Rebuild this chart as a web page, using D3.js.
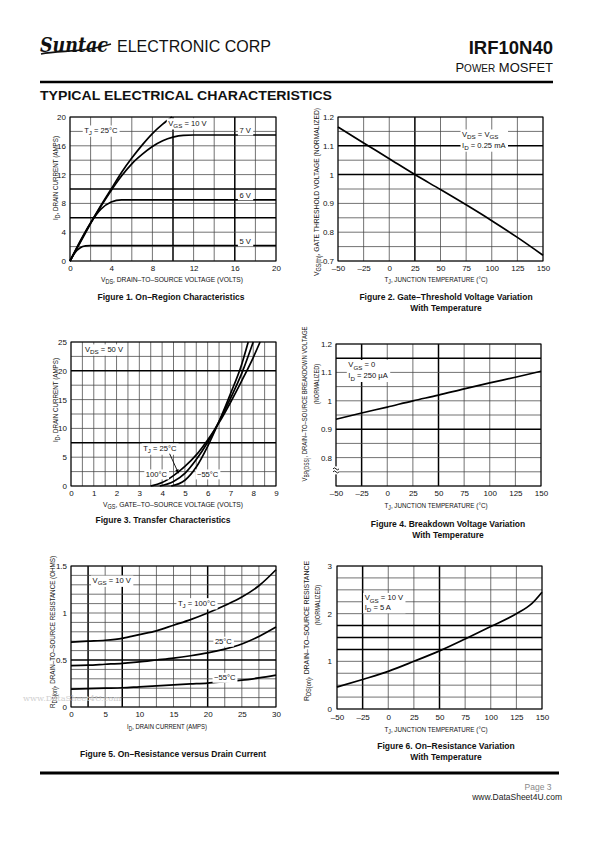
<!DOCTYPE html>
<html><head><meta charset="utf-8">
<script src="https://cdn.jsdelivr.net/npm/d3@7"></script>
<style>
body{margin:0;background:#fff;}
svg{display:block;}
</style></head><body>
<svg id="page" width="595" height="842"></svg>
<script>
// ---------------- DATA ----------------
// Figure 1: On-region characteristics (ID vs VDS)
const fig1_x10 = [0,1,2,3,4,5,6,7,8,9,9.9];
const fig1_y10 = [0,2.6,5.2,7.7,10,12.3,14.3,16.1,17.7,19.0,20];
const fig1_x7  = [0,1,2,3,4,5,6,7,8,9,10,11,12,20];
const fig1_y7  = [0,2.7,5.3,7.6,9.8,11.8,13.5,14.8,15.9,16.7,17.2,17.45,17.5,17.5];
const fig1_x6  = [0,1,2,3,4,5,6,20];
const fig1_y6  = [0,2.8,5.3,7.2,8.2,8.5,8.5,8.5];
const fig1_x5  = [0,0.5,1,1.5,2,20];
const fig1_y5  = [0,1.2,1.85,2.1,2.15,2.15];
const fig1_xticks = [0,4,8,12,16,20];
const fig1_yticks = [0,4,8,12,16,20];

// Figure 2: gate threshold vs temperature
const fig2_temp = [-50,-25,0,25,50,75,100,125,150];
const fig2_vth  = [1.165,1.11,1.055,1.0,0.948,0.895,0.84,0.782,0.72];
const tempTicks = [-50,-25,0,25,50,75,100,125,150];
const fig2_yticks = [0.7,0.8,0.9,1,1.1,1.2];

// Figure 3: transfer characteristics
const fig3_v100 = [3.5,4,4.5,5,5.5,6,6.5,7,7.5,8,8.3];
const fig3_i100 = [0,0.6,1.8,3.4,5.4,8,11,14.5,18.3,22.3,25];
const fig3_v25  = [3.9,4.5,5,5.5,6,6.5,7,7.5,8.0];
const fig3_i25  = [0,0.8,2.2,4.6,7.6,11.2,15.2,19.6,25];
const fig3_vm55 = [4.4,5,5.5,6,6.5,7,7.5,7.78];
const fig3_im55 = [0,1.0,3.3,6.9,11.2,16,21.2,25];
const fig3_xticks = [0,1,2,3,4,5,6,7,8,9];
const fig3_yticks = [0,5,10,15,20,25];

// Figure 4: breakdown voltage vs temperature
const fig4_temp = [-50,-25,0,25,50,75,100,125,150];
const fig4_vbr  = [0.935,0.957,0.978,1.0,1.02,1.042,1.063,1.083,1.104];
const fig4_yticks = [0.8,0.9,1,1.1,1.2];

// Figure 5: on-resistance vs drain current
const fig5_id   = [0,2.5,5,7.5,10,12.5,15,17.5,20,22.5,25,27.5,30];
const fig5_r100 = [0.69,0.70,0.71,0.73,0.77,0.81,0.87,0.93,1.0,1.08,1.17,1.29,1.46];
const fig5_r25  = [0.44,0.445,0.455,0.465,0.48,0.50,0.52,0.545,0.575,0.615,0.67,0.75,0.85];
const fig5_rm55 = [0.19,0.195,0.20,0.205,0.215,0.225,0.235,0.245,0.255,0.27,0.285,0.31,0.34];
const fig5_xticks = [0,5,10,15,20,25,30];
const fig5_yticks = [0,0.5,1,1.5];

// Figure 6: on-resistance vs temperature
const fig6_temp = [-50,-25,0,25,50,75,100,125,140,150];
const fig6_rn   = [0.46,0.62,0.79,1.0,1.22,1.47,1.73,2.0,2.21,2.45];
const fig6_yticks = [0,1,2,3];

// ---------------- DRAWING ----------------
const svg = d3.select('#page');
const NARROW = '"Liberation Sans Narrow","Liberation Sans",Arial,sans-serif';
const SANS = '"Liberation Sans",Arial,sans-serif';
const tfmt = d => String(d).replace('-', '\u2013');

function rich(sel, parts, fs) {
  let shift = 0;
  parts.forEach(p => {
    const isSub = typeof p !== 'string';
    const t = sel.append('tspan').text(isSub ? p.sub : p);
    const target = isSub ? fs * 0.3 : 0;
    if (target !== shift) { t.attr('dy', target - shift); shift = target; }
    if (isSub) t.attr('font-size', fs * 0.82);
  });
}

function note(g, px, py, parts, anchor, fs, bg) {
  const t = g.append('text').attr('x', px).attr('y', py)
    .attr('font-family', NARROW).attr('font-size', fs).attr('fill', '#111')
    .attr('text-anchor', anchor || 'start');
  rich(t, parts, fs);
  if (bg !== false) {
    const b = t.node().getBBox();
    g.insert('rect', () => t.node()).attr('x', b.x - 1.5).attr('y', b.y - 0.5)
      .attr('width', b.width + 3).attr('height', b.height + 1).attr('fill', '#fff');
  }
  return t;
}

function boxPair(g, a, b) {
  const b1 = a.node().getBBox(), b2 = b.node().getBBox();
  g.insert('rect', () => a.node()).attr('x', Math.min(b1.x, b2.x) - 1.5).attr('y', b1.y - 0.5)
    .attr('width', Math.max(b1.width, b2.width) + 3).attr('height', b2.y + b2.height - b1.y + 1).attr('fill', '#fff');
}

function near(list, d) { return list.some(h => Math.abs(h - d) < 1e-6); }

function chart(c) {
  const g = svg.append('g');
  const x = d3.scaleLinear().domain(c.xd).range([c.l, c.r]);
  const y = d3.scaleLinear().domain(c.yd).range([c.b, c.t]);
  const xg = d3.range(0, Math.round((c.xd[1] - c.xd[0]) / c.xs) + 1).map(i => c.xd[0] + i * c.xs);
  const yg = d3.range(0, Math.round((c.yd[1] - c.yd[0]) / c.ys) + 1).map(i => c.yd[0] + i * c.ys);
  g.selectAll('line.gx').data(xg).join('line').attr('class', 'gx')
    .attr('x1', d => x(d)).attr('x2', d => x(d)).attr('y1', c.t).attr('y2', c.b)
    .attr('stroke', d => near(c.hx, d) ? '#000' : '#444')
    .attr('stroke-width', d => near(c.hx, d) ? 1.5 : 0.75);
  g.selectAll('line.gy').data(yg).join('line').attr('class', 'gy')
    .attr('y1', d => y(d)).attr('y2', d => y(d)).attr('x1', c.l).attr('x2', c.r)
    .attr('stroke', d => near(c.hy, d) ? '#000' : '#444')
    .attr('stroke-width', d => near(c.hy, d) ? 1.5 : 0.75);
  g.append('rect').attr('x', c.l).attr('y', c.t).attr('width', c.r - c.l).attr('height', c.b - c.t)
    .attr('fill', 'none').attr('stroke', '#000').attr('stroke-width', 1);
  const ax = g.append('g').attr('transform', `translate(0,${c.b})`)
    .call(d3.axisBottom(x).tickValues(c.xt).tickSize(0).tickPadding(c.xpad || 4).tickFormat(tfmt));
  const ay = g.append('g').attr('transform', `translate(${c.l},0)`)
    .call(d3.axisLeft(y).tickValues(c.yt).tickSize(0).tickPadding(c.ypad || 4).tickFormat(tfmt));
  [ax, ay].forEach(a => {
    a.select('.domain').remove();
    a.attr('font-family', NARROW).attr('font-size', 8);
    a.selectAll('text').attr('fill', '#111');
  });
  const line = d3.line().x(d => x(d[0])).y(d => y(d[1])).curve(d3.curveMonotoneX);
  c.series.forEach(s => {
    g.append('path').datum(d3.zip(s[0], s[1])).attr('d', line)
      .attr('fill', 'none').attr('stroke', '#000').attr('stroke-width', 1.7);
  });
  // x title
  const xt = g.append('text').attr('x', c.xtc).attr('y', c.xty)
    .attr('text-anchor', 'middle').attr('font-family', NARROW).attr('font-size', 7.8).attr('fill', '#111')
    .attr('textLength', c.xtw).attr('lengthAdjust', 'spacingAndGlyphs');
  rich(xt, c.xtitle, 7.8);
  // y title(s)
  c.ytitles.forEach(yt => {
    const t = g.append('text').attr('x', yt.x).attr('y', yt.cy)
      .attr('transform', `rotate(-90,${yt.x},${yt.cy})`)
      .attr('text-anchor', 'middle').attr('dominant-baseline', 'central')
      .attr('font-family', NARROW).attr('font-size', 7.8).attr('fill', '#111')
      .attr('textLength', yt.w).attr('lengthAdjust', 'spacingAndGlyphs');
    rich(t, yt.parts, 7.8);
  });
  // captions
  c.caps.forEach((cap, i) => {
    g.append('text').attr('x', c.capx).attr('y', c.capy + i * 11)
      .attr('text-anchor', 'middle').attr('font-family', SANS).attr('font-weight', 'bold')
      .attr('font-size', 8.5).attr('fill', '#111').text(cap);
  });
  return { g, x, y };
}

// ---- Header ----
svg.append('text').attr('x', 40).attr('y', 52).attr('font-family', '"DejaVu Serif",serif')
  .attr('font-style', 'italic').attr('font-weight', 'bold').attr('font-size', 20)
  .attr('textLength', 68).attr('lengthAdjust', 'spacingAndGlyphs').attr('fill', '#111').text('Suntac');
svg.append('path').attr('d', 'M41,54 C60,50 85,53 111,44').attr('fill', 'none').attr('stroke', '#111').attr('stroke-width', 1.6);
svg.append('text').attr('x', 117).attr('y', 52).attr('font-family', SANS).attr('font-size', 16.5)
  .attr('textLength', 154).attr('lengthAdjust', 'spacingAndGlyphs').attr('fill', '#111').text('ELECTRONIC CORP');
svg.append('text').attr('x', 553).attr('y', 54).attr('text-anchor', 'end').attr('font-family', SANS)
  .attr('font-weight', 'bold').attr('font-size', 18.5).attr('fill', '#111').text('IRF10N40');
const pm = svg.append('text').attr('x', 553).attr('y', 72).attr('text-anchor', 'end').attr('font-family', SANS)
  .attr('font-size', 13).attr('fill', '#111');
pm.append('tspan').text('P');
pm.append('tspan').attr('font-size', 10).text('OWER');
pm.append('tspan').text('  MOSFET');
svg.append('line').attr('x1', 40).attr('x2', 553).attr('y1', 82).attr('y2', 82).attr('stroke', '#000').attr('stroke-width', 2.5);
svg.append('text').attr('x', 40).attr('y', 100).attr('font-family', SANS).attr('font-weight', 'bold')
  .attr('font-size', 13.5).attr('textLength', 292).attr('lengthAdjust', 'spacingAndGlyphs')
  .attr('fill', '#111').text('TYPICAL ELECTRICAL CHARACTERISTICS');

// ---- Figure 1 ----
const f1 = chart({
  l: 70, r: 276, t: 117, b: 261, xd: [0, 20], yd: [0, 20], xs: 2, ys: 2,
  hx: [10, 16], hy: [10, 6], xt: fig1_xticks, yt: fig1_yticks,
  series: [[fig1_x10, fig1_y10], [fig1_x7, fig1_y7], [fig1_x6, fig1_y6], [fig1_x5, fig1_y5]],
  xty: 282, xtc: 172, xtw: 142, xtitle: ['V', {sub: 'DS'}, ', DRAIN\u2013TO\u2013SOURCE VOLTAGE (VOLTS)'],
  ytitles: [{x: 55, cy: 178, w: 84, parts: ['I', {sub: 'D'}, ', DRAIN CURRENT (AMPS)']}],
  caps: ['Figure 1. On\u2013Region Characteristics'], capx: 171, capy: 300
});
note(f1.g, f1.x(3.0), f1.y(18.2) + 3, ['T', {sub: 'J'}, ' = 25\u00B0C'], 'middle', 7.6);
note(f1.g, f1.x(11.4), f1.y(19.2) + 3, ['V', {sub: 'GS'}, ' = 10 V'], 'middle', 7.6);
note(f1.g, f1.x(17.0), f1.y(18.2) + 3, ['7 V'], 'middle', 7.6);
note(f1.g, f1.x(17.0), f1.y(9.2) + 3, ['6 V'], 'middle', 7.6);
note(f1.g, f1.x(17.0), f1.y(2.8) + 3, ['5 V'], 'middle', 7.6);

// ---- Figure 2 ----
const f2 = chart({
  l: 338, r: 543, t: 117, b: 261, xd: [-50, 150], yd: [0.7, 1.2], xs: 25, ys: 0.05,
  hx: [25], hy: [1.1, 1.0], xt: tempTicks, yt: fig2_yticks,
  series: [[fig2_temp, fig2_vth]],
  xty: 282, xtc: 436, xtw: 103, xtitle: ['T', {sub: 'J'}, ', JUNCTION TEMPERATURE (\u00B0C)'],
  ytitles: [{x: 316, cy: 192, w: 168, parts: ['V', {sub: 'GS(th)'}, ', GATE THRESHOLD VOLTAGE (NORMALIZED)']}],
  caps: ['Figure 2. Gate\u2013Threshold Voltage Variation', 'With Temperature'], capx: 446, capy: 300
});
boxPair(f2.g,
  note(f2.g, f2.x(71), f2.y(1.141) + 3, ['V', {sub: 'DS'}, ' = V', {sub: 'GS'}], 'start', 7.6, false),
  note(f2.g, f2.x(71), f2.y(1.103) + 3, ['I', {sub: 'D'}, ' = 0.25 mA'], 'start', 7.6, false));

// ---- Figure 3 ----
const f3 = chart({
  l: 71, r: 276, t: 342, b: 486, xd: [0, 9], yd: [0, 25], xs: 0.5, ys: 2.5,
  hx: [], hy: [20, 7.5], xt: fig3_xticks, yt: fig3_yticks,
  series: [[fig3_v100, fig3_i100], [fig3_v25, fig3_i25], [fig3_vm55, fig3_im55]],
  xty: 507, xtc: 173, xtw: 140, xtitle: ['V', {sub: 'GS'}, ', GATE\u2013TO\u2013SOURCE VOLTAGE (VOLTS)'],
  ytitles: [{x: 55, cy: 400, w: 84, parts: ['I', {sub: 'D'}, ', DRAIN CURRENT (AMPS)']}],
  caps: ['Figure 3. Transfer Characteristics'], capx: 163, capy: 523
});
note(f3.g, f3.x(1.45), f3.y(23.8) + 3, ['V', {sub: 'DS'}, ' = 50 V'], 'middle', 7.6);
note(f3.g, f3.x(3.9), f3.y(6.6) + 3, ['T', {sub: 'J'}, ' = 25\u00B0C'], 'middle', 7.6);
note(f3.g, f3.x(3.75), f3.y(2.1) + 3, ['100\u00B0C'], 'middle', 7.6);
note(f3.g, f3.x(6.0), f3.y(2.1) + 3, ['\u221255\u00B0C'], 'middle', 7.6);
{
  const x1 = f3.x(4.33), y1 = f3.y(5.6), x2 = f3.x(4.72), y2 = f3.y(2.2);
  f3.g.append('line').attr('x1', x1).attr('y1', y1).attr('x2', x2).attr('y2', y2).attr('stroke', '#000').attr('stroke-width', 0.9);
  const ang = Math.atan2(y2 - y1, x2 - x1);
  const L = 4, W = 1.8;
  const p = [[x2, y2],
    [x2 - L * Math.cos(ang) + W * Math.sin(ang), y2 - L * Math.sin(ang) - W * Math.cos(ang)],
    [x2 - L * Math.cos(ang) - W * Math.sin(ang), y2 - L * Math.sin(ang) + W * Math.cos(ang)]];
  f3.g.append('path').attr('d', 'M' + p.join('L') + 'Z').attr('fill', '#000');
}

// ---- Figure 4 ----
const f4 = chart({
  l: 336, r: 541, t: 344, b: 486, xd: [-50, 150], yd: [0.7, 1.2], xs: 25, ys: 0.05,
  hx: [-25, 50], hy: [1.15, 0.9], xt: tempTicks, yt: fig4_yticks,
  series: [[fig4_temp, fig4_vbr]],
  xty: 508, xtc: 436, xtw: 103, xtitle: ['T', {sub: 'J'}, ', JUNCTION TEMPERATURE (\u00B0C)'],
  ytitles: [
    {x: 304, cy: 404, w: 155, parts: ['V', {sub: 'BR(DSS)'}, ', DRAIN\u2013TO\u2013SOURCE BREAKDOWN VOLTAGE']},
    {x: 316, cy: 384, w: 40, parts: ['(NORMALIZED)']}],
  caps: ['Figure 4. Breakdown Voltage Variation', 'With Temperature'], capx: 448, capy: 527
});
boxPair(f4.g,
  note(f4.g, f4.x(-38), f4.y(1.128) + 3, ['V', {sub: 'GS'}, ' = 0'], 'start', 7.6, false),
  note(f4.g, f4.x(-38), f4.y(1.090) + 3, ['I', {sub: 'D'}, ' = 250 \u00B5A'], 'start', 7.6, false));
{
  // axis break mark
  const bx = f4.x(-50), by = f4.y(0.755);
  f4.g.append('rect').attr('x', bx - 3).attr('y', by - 4).attr('width', 6).attr('height', 8).attr('fill', '#fff');
  f4.g.append('path').attr('d', `M${bx - 3},${by - 1.5} q1.5,-2 3,0 t3,0 M${bx - 3},${by + 1.5} q1.5,-2 3,0 t3,0`)
    .attr('fill', 'none').attr('stroke', '#000').attr('stroke-width', 0.9);
}

// ---- Figure 5 ----
const f5 = chart({
  l: 71, r: 276, t: 566, b: 707, xd: [0, 30], yd: [0, 1.5], xs: 2.5, ys: 0.1,
  hx: [2.5, 7.5, 20], hy: [0.5], xt: fig5_xticks, yt: fig5_yticks,
  series: [[fig5_id, fig5_r100], [fig5_id, fig5_r25], [fig5_id, fig5_rm55]],
  xty: 729, xtc: 167, xtw: 80, xtitle: ['I', {sub: 'D'}, ', DRAIN CURRENT (AMPS)'],
  ytitles: [{x: 52, cy: 632, w: 152, parts: ['R', {sub: 'DS(on)'}, ', DRAIN\u2013TO\u2013SOURCE RESISTANCE (OHMS)']}],
  caps: ['Figure 5. On\u2013Resistance versus Drain Current'], capx: 173, capy: 757
});
note(f5.g, f5.x(5.96), f5.y(1.35) + 3, ['V', {sub: 'GS'}, ' = 10 V'], 'middle', 7.6);
note(f5.g, f5.x(18.4), f5.y(1.11) + 3, ['T', {sub: 'J'}, ' = 100\u00B0C'], 'middle', 7.6);
note(f5.g, f5.x(22.3), f5.y(0.70) + 3, ['25\u00B0C'], 'middle', 7.6);
note(f5.g, f5.x(22.5), f5.y(0.316) + 3, ['\u221255\u00B0C'], 'middle', 7.6);
svg.append('text').attr('x', 23).attr('y', 701).attr('font-family', '"DejaVu Serif",serif').attr('font-size', 8)
  .attr('fill', '#cfcfcf').attr('textLength', 98).attr('lengthAdjust', 'spacingAndGlyphs').text('www.DataSheet4U.com');

// ---- Figure 6 ----
const f6 = chart({
  l: 337, r: 542, t: 566, b: 709, xd: [-50, 150], yd: [0, 3], xs: 25, ys: 0.25,
  hx: [-25, 50], hy: [1.25, 1.5, 1.75], xt: tempTicks, yt: fig6_yticks, xpad: 5, ypad: 5,
  series: [[fig6_temp, fig6_rn]],
  xty: 732, xtc: 436, xtw: 103, xtitle: ['T', {sub: 'J'}, ', JUNCTION TEMPERATURE (\u00B0C)'],
  ytitles: [
    {x: 306, cy: 631, w: 140, parts: ['R', {sub: 'DS(on)'}, ', DRAIN\u2013TO\u2013SOURCE RESISTANCE']},
    {x: 317, cy: 605, w: 40, parts: ['(NORMALIZED)']}],
  caps: ['Figure 6. On\u2013Resistance Variation', 'With Temperature'], capx: 446, capy: 749
});
boxPair(f6.g,
  note(f6.g, f6.x(-23), f6.y(2.34) + 3, ['V', {sub: 'GS'}, ' = 10 V'], 'start', 7.6, false),
  note(f6.g, f6.x(-23), f6.y(2.15) + 3, ['I', {sub: 'D'}, ' = 5 A'], 'start', 7.6, false));

// ---- Footer ----
svg.append('line').attr('x1', 40).attr('x2', 559).attr('y1', 773).attr('y2', 773).attr('stroke', '#000').attr('stroke-width', 3);
svg.append('text').attr('x', 538).attr('y', 790).attr('text-anchor', 'middle').attr('font-family', SANS)
  .attr('font-size', 8.5).attr('fill', '#888').text('Page 3');
svg.append('text').attr('x', 562).attr('y', 800).attr('text-anchor', 'end').attr('font-family', SANS)
  .attr('font-size', 8.5).attr('fill', '#222').text('www.DataSheet4U.com');
</script>
</body></html>
